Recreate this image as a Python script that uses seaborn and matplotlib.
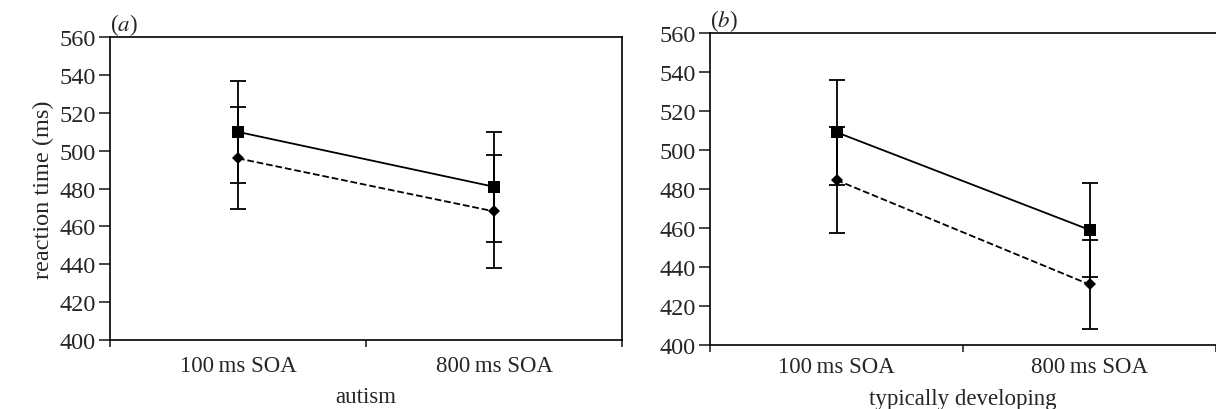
import numpy as np
import matplotlib
matplotlib.use("Agg")
import matplotlib.pyplot as plt
import seaborn as sns

# reaction times (ms)
soa_labels = ["100\u2009ms SOA", "800\u2009ms SOA"]

autism_square = [510, 481]
autism_square_err = [27, 29]
autism_diamond = [496, 468]
autism_diamond_err = [27, 30]

td_square = [509, 459]
td_square_err = [27, 24]
td_diamond = [484.5, 431]
td_diamond_err = [27, 23]

sns.set_style("ticks")
plt.rcParams["font.family"] = ["Liberation Serif", "DejaVu Serif"]
plt.rcParams["mathtext.fontset"] = "stix"
fs = 17.5

fig = plt.figure(figsize=(12.16, 4.10), dpi=100)
ax_a = fig.add_axes([110 / 1216, 69 / 410, 512 / 1216, 302.7 / 410])
ax_b = fig.add_axes([710 / 1216, 64 / 410, 506 / 1216, 312.3 / 410])

panels = [
    (ax_a, autism_square, autism_square_err, autism_diamond, autism_diamond_err,
     "autism", "a", 11, 7),
    (ax_b, td_square, td_square_err, td_diamond, td_diamond_err,
     "typically developing", "b", 8, 8),
]

x = np.arange(len(soa_labels))
for ax, sq, sq_err, dm, dm_err, xlab, tag, tpad, lpad in panels:
    sns.lineplot(x=x, y=sq, ax=ax, color="black", linewidth=1.3, marker="s",
                 markersize=8, markeredgewidth=0, linestyle="-")
    sns.lineplot(x=x, y=dm, ax=ax, color="black", linewidth=1.3, marker="D",
                 markersize=6, markeredgewidth=0, linestyle="--", dashes=(4, 3))
    ax.errorbar(x, sq, yerr=sq_err, fmt="none", ecolor="black", elinewidth=1.3,
                capsize=6, capthick=1.3)
    ax.errorbar(x, dm, yerr=dm_err, fmt="none", ecolor="black", elinewidth=1.3,
                capsize=6, capthick=1.3)

    ax.set_xlim(-0.5, 1.5)
    ax.set_ylim(400, 560)
    ax.set_yticks(np.arange(400, 561, 20))
    ax.set_xticks(x)
    ax.set_xticklabels(soa_labels)
    ax.set_xticks([-0.5, 0.5, 1.5], minor=True)
    ax.tick_params(axis="x", which="major", length=0, pad=tpad, labelsize=16.5)
    ax.tick_params(axis="x", which="minor", length=5, width=1.2, direction="out")
    ax.tick_params(axis="y", length=8, width=1.2, direction="out", labelsize=fs, pad=2)
    ax.set_xlabel(xlab, fontsize=16.5, labelpad=lpad)
    for sp in ax.spines.values():
        sp.set_linewidth(1.2)
        sp.set_color("black")
    ax.text(0.0, 1.0, "($\\it{%s}$)" % tag, transform=ax.transAxes, fontsize=16.5,
            ha="left", va="bottom")

ax_a.set_ylabel("reaction time (ms)", fontsize=fs, labelpad=4)
ax_b.spines["right"].set_visible(False)

fig.savefig("out.png", dpi=100)
